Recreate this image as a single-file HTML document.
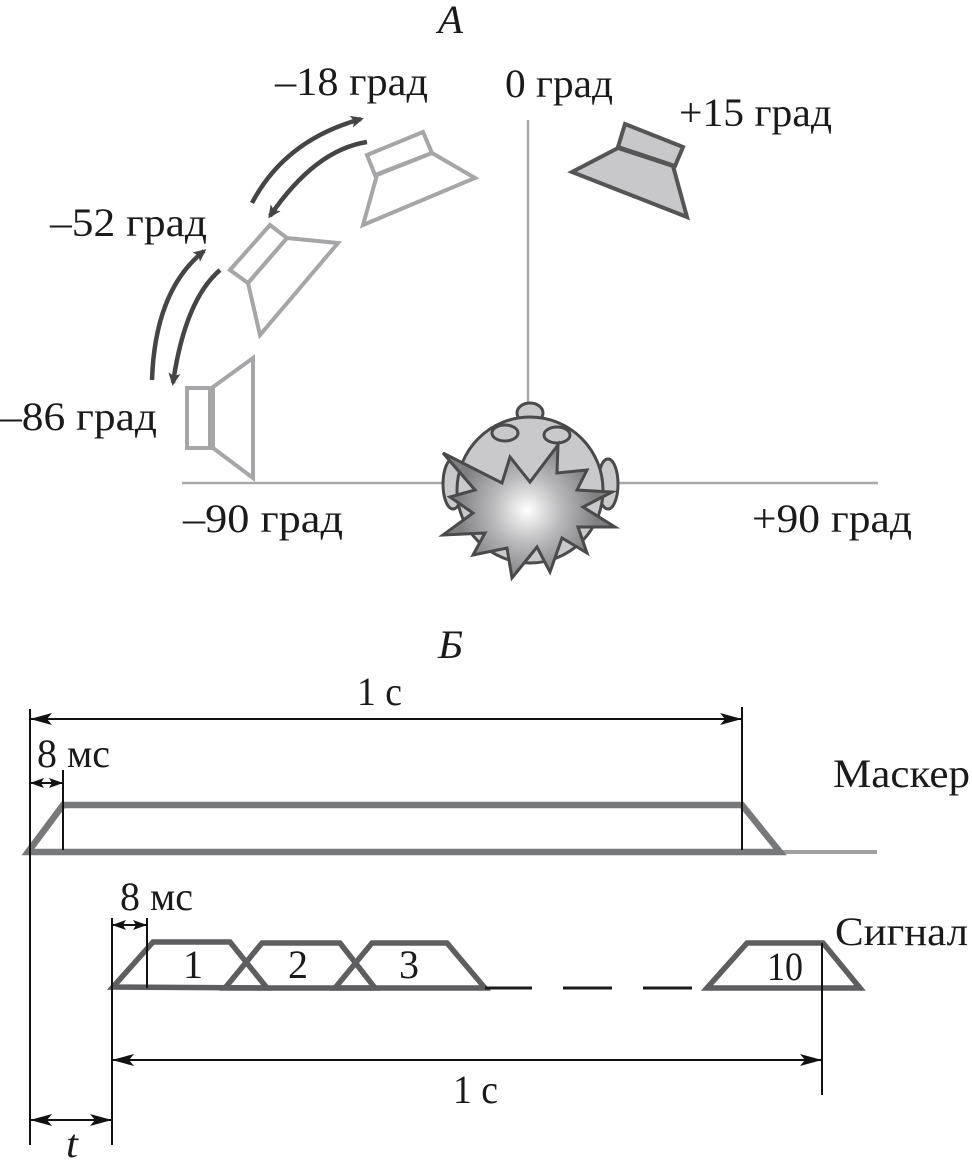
<!DOCTYPE html>
<html><head><meta charset="utf-8"><style>
html,body{margin:0;padding:0;background:#fff;}
svg{display:block;}
text{font-family:"Liberation Serif","DejaVu Serif",serif;font-size:40px;fill:#1a1a1a;}
</style></head><body>
<svg width="972" height="1170" viewBox="0 0 972 1170" xmlns="http://www.w3.org/2000/svg">
<defs>
<marker id="ca" markerWidth="14" markerHeight="12" refX="10" refY="6" orient="auto" markerUnits="userSpaceOnUse"><path d="M0,0 L13,6 L0,12 L3,6 z" fill="#444"/></marker>
<marker id="da" markerWidth="22" markerHeight="12" refX="21" refY="6" orient="auto-start-reverse" markerUnits="userSpaceOnUse"><path d="M0,0 L22,6 L0,12 L5,6 z" fill="#111"/></marker>
<marker id="ds" markerWidth="14" markerHeight="10" refX="13" refY="5" orient="auto-start-reverse" markerUnits="userSpaceOnUse"><path d="M0,0 L14,5 L0,10 L3,5 z" fill="#111"/></marker>
<radialGradient id="sg" cx="527" cy="510" r="70" gradientUnits="userSpaceOnUse">
<stop offset="0" stop-color="#ffffff"/><stop offset="0.5" stop-color="#b8b8ba"/><stop offset="1" stop-color="#808082"/>
</radialGradient>
</defs>

<!-- Section A -->
<text x="438" y="33" font-style="italic" textLength="25" lengthAdjust="spacingAndGlyphs">А</text>
<text x="275" y="95" textLength="153" lengthAdjust="spacingAndGlyphs">–18 град</text>
<text x="505" y="97" textLength="108" lengthAdjust="spacingAndGlyphs">0 град</text>
<text x="679" y="126" textLength="153" lengthAdjust="spacingAndGlyphs">+15 град</text>
<text x="50" y="236" textLength="157" lengthAdjust="spacingAndGlyphs">–52 град</text>
<text x="0" y="430" textLength="157" lengthAdjust="spacingAndGlyphs">–86 град</text>
<text x="183" y="532" textLength="160" lengthAdjust="spacingAndGlyphs">–90 град</text>
<text x="752" y="532" textLength="160" lengthAdjust="spacingAndGlyphs">+90 град</text>

<!-- axes -->
<line x1="528" y1="120" x2="528" y2="410" stroke="#a9a9ab" stroke-width="2.5"/>
<line x1="182" y1="483" x2="878" y2="483" stroke="#a9a9ab" stroke-width="2.5"/>

<!-- +15 speaker -->
<g fill="#c8c8ca" stroke="#555" stroke-width="4" stroke-linejoin="miter">
<polygon points="618,148 673,166 687,217 572,172"/>
<polygon points="625,124 683,147 675,166 618,147"/>
</g>

<!-- light speakers -->
<g fill="none" stroke="#a6a6a8" stroke-width="4">
<polygon points="367,155 423,132 432,153 375,175"/>
<polygon points="377,175 432,153 475,178 363,225"/>
<polygon points="230,270 270,225 287,238 248,283"/>
<polygon points="287,238 338,243 260,335 248,283"/>
<polygon points="187,388 210,388 210,448 187,448"/>
<polygon points="213,387 253,358 253,478 213,448"/>
</g>

<!-- curved arrows -->
<g fill="none" stroke="#454545" stroke-width="4.5">
<path d="M252,203 Q285,140 361,119" marker-end="url(#ca)"/>
<path d="M367,142 Q315,150 270,216" marker-end="url(#ca)"/>
<path d="M152,380 Q155,290 204,251" marker-end="url(#ca)"/>
<path d="M220,270 Q185,300 173,383" marker-end="url(#ca)"/>
</g>

<!-- head -->
<g stroke="#4a4a4a" stroke-width="3" fill="#c9c9cb">
<ellipse cx="530" cy="413" rx="13" ry="10"/>
<ellipse cx="453" cy="484" rx="10" ry="25"/>
<ellipse cx="608" cy="484" rx="10" ry="25"/>
<circle cx="530" cy="490" r="73"/>
<ellipse cx="505" cy="433" rx="13" ry="8"/>
<ellipse cx="557" cy="435" rx="13" ry="8"/>
</g>
<polygon fill="url(#sg)" stroke="#4a4a4a" stroke-width="3" stroke-linejoin="miter" points="443,453 502,483 510,457 530,482 558,445 557,473 587,470 577,490 612,492 583,507 615,527 578,527 587,553 562,538 550,572 537,547 512,578 507,548 473,555 485,533 443,535 473,513 450,497 475,490"/>

<!-- Section B -->
<text x="438" y="658" font-style="italic" textLength="25" lengthAdjust="spacingAndGlyphs">Б</text>
<text x="357" y="705" textLength="45" lengthAdjust="spacingAndGlyphs">1 с</text>
<text x="37" y="767" textLength="73" lengthAdjust="spacingAndGlyphs">8 мс</text>
<text x="833" y="787" textLength="137" lengthAdjust="spacingAndGlyphs">Маскер</text>
<text x="120" y="910" textLength="73" lengthAdjust="spacingAndGlyphs">8 мс</text>
<text x="835" y="945" textLength="133" lengthAdjust="spacingAndGlyphs">Сигнал</text>
<text x="453" y="1103" textLength="45" lengthAdjust="spacingAndGlyphs">1 с</text>
<text x="66" y="1157" font-style="italic" textLength="12" lengthAdjust="spacingAndGlyphs">t</text>

<!-- masker -->
<line x1="782" y1="852" x2="877" y2="852" stroke="#a0a0a2" stroke-width="4"/>
<polygon points="28,852 63,805 742,805 780,852" fill="none" stroke="#77787a" stroke-width="6.5" stroke-linejoin="miter"/>

<!-- signal pulses -->
<g fill="none" stroke="#5e5e60" stroke-width="5.5" stroke-linejoin="miter">
<polygon points="113,987 153,942 230,942 267,988"/>
<polygon points="225,988 262,943 340,943 375,988"/>
<polygon points="335,988 372,943 447,943 485,988"/>
<polygon points="707,988 747,943 823,943 860,988"/>
</g>
<text x="183" y="978" textLength="20" lengthAdjust="spacingAndGlyphs">1</text>
<text x="288" y="978" textLength="20" lengthAdjust="spacingAndGlyphs">2</text>
<text x="399" y="978" textLength="20" lengthAdjust="spacingAndGlyphs">3</text>
<text x="767" y="980" textLength="36" lengthAdjust="spacingAndGlyphs">10</text>
<g stroke="#1a1a1a" stroke-width="3">
<line x1="485" y1="988" x2="532" y2="988"/>
<line x1="563" y1="988" x2="612" y2="988"/>
<line x1="643" y1="988" x2="692" y2="988"/>
</g>

<!-- dimension lines -->
<g stroke="#111" stroke-width="2" fill="none">
<line x1="30" y1="709" x2="30" y2="1145"/>
<line x1="742" y1="707" x2="742" y2="850"/>
<line x1="63" y1="770" x2="63" y2="850"/>
<line x1="112" y1="918" x2="112" y2="1145"/>
<line x1="147" y1="918" x2="147" y2="988"/>
<line x1="822" y1="943" x2="822" y2="1095"/>
<line x1="31" y1="719" x2="741" y2="719" marker-start="url(#da)" marker-end="url(#da)"/>
<line x1="31" y1="783" x2="62" y2="783" marker-start="url(#ds)" marker-end="url(#ds)"/>
<line x1="113" y1="925" x2="146" y2="925" marker-start="url(#ds)" marker-end="url(#ds)"/>
<line x1="113" y1="1060" x2="821" y2="1060" marker-start="url(#da)" marker-end="url(#da)"/>
<line x1="31" y1="1120" x2="111" y2="1120" marker-start="url(#da)" marker-end="url(#da)"/>
</g>
</svg>
</body></html>
